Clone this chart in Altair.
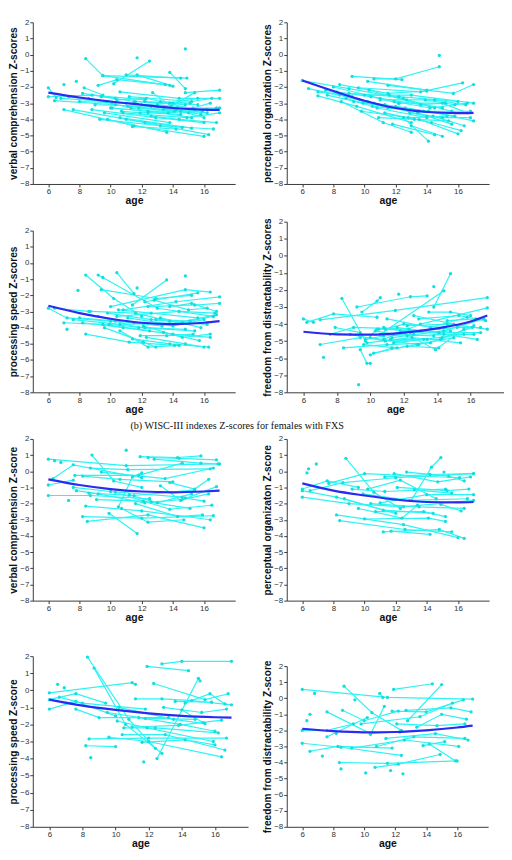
import altair as alt
import pandas as pd

# ---------------- data ----------------
X_TICKS = [6, 8, 10, 12, 14, 16]
Y_TICKS = list(range(-8, 3))
FIT_AGES = [6, 8, 10, 12, 14, 16, 17]

# (a) males
m_verbal = [
    [(8.4,-0.25),(9.5,-1.3),(13.8,-1.9)], [(10.2,-1.8),(12.5,-0.4)], [(11.7,-0.2)], [(14.8,0.35)],
    [(9.5,-1.3),(14.9,-1.45)], [(11,-1.25),(14.5,-1.45)], [(9.2,-1.9),(10.4,-1.55),(13.5,-1.85)],
    [(11.7,-1.25),(14,-1.95)], [(13.8,-1.1),(14.8,-2.1)], [(12.7,-2.35),(13.9,-3.2),(15.4,-2.35)],
    [(14.8,-2.35),(17,-2.2)], [(6,-2.05),(6.5,-2.65)], [(7,-1.85)], [(7.8,-1.65)],
    [(8.3,-2.05),(9.5,-2.5)], [(6,-2.6),(8.8,-2.5),(12.2,-2.8)], [(6.4,-2.85),(10.3,-3.1),(14.5,-3.5)],
    [(7,-3.4),(11.5,-4.4),(16,-5.05)], [(7.6,-3.4),(12.2,-4.2),(16.3,-4.95)],
    [(9.3,-4.0),(13.2,-4.4),(16.6,-4.6)], [(8.6,-2.7),(11.3,-3.3),(15.2,-3.9)],
    [(9.8,-4.0),(13.6,-4.8)], [(10.6,-3.9),(15.2,-4.55)], [(11.4,-4.45),(14.2,-4.6)],
    [(10,-3.3),(13.7,-3.6),(16.8,-3.3)], [(9,-3.1),(12.6,-3.2),(15.8,-3.7)],
    [(8,-2.9),(11,-3.0),(14.3,-3.3),(17,-3.3)], [(10.6,-2.3),(14.4,-2.7),(17,-2.7)],
    [(11.2,-2.6),(15.2,-2.9),(16.5,-2.7)], [(12.2,-2.9),(15.6,-3.1)], [(7.3,-2.6),(10.1,-2.95)],
    [(8.8,-3.4),(12.9,-3.9),(16,-4.2)], [(10.8,-3.6),(14.9,-3.9),(17,-3.6)],
    [(11.8,-3.3),(15,-3.6),(16.2,-3.4)], [(9.6,-3.6),(13.8,-4.2)], [(12.6,-3.8),(14.4,-4.0),(16.8,-4.2)],
    [(11,-4.0),(14.6,-4.5)], [(13.2,-2.9),(15.1,-3.0)], [(10.4,-2.8),(12.3,-2.7),(15.9,-3.5)],
    [(14.2,-3.4),(16,-3.9)],
    [(9.4,-2.6),(11.6,-2.9),(14.8,-3.1)], [(10.1,-3.3),(12.4,-3.5),(15.4,-3.4)],
    [(11.1,-3.2),(13.4,-3.4),(16.2,-3.6)], [(9.7,-2.9),(12,-3.1),(14,-3.0)], [(12.4,-3.6),(14.5,-3.7)],
    [(10.7,-3.5),(11.9,-3.6),(14.1,-3.5)], [(13,-3.1),(15.3,-3.3),(16.4,-3.0)], [(8.2,-2.4),(10.3,-2.7)],
    [(6.8,-2.7),(9.8,-2.9)], [(11.5,-2.9),(13.8,-3.0),(15.6,-2.7)],
]
m_verbal_fit = [-2.35, -2.65, -2.9, -3.1, -3.3, -3.4, -3.42]

m_percept = [
    [(6,-1.6),(9,-2.1),(12.5,-2.7)], [(6.4,-2.1),(8.4,-2.5),(11.5,-3.3)], [(7,-2.55),(9.5,-3.2),(13,-4.2)],
    [(7.5,-2.2),(10.2,-2.9),(14,-3.8)], [(8,-2.0),(11,-2.7),(15,-3.3)], [(8.4,-1.85),(11.5,-2.4),(14,-2.25)],
    [(8.5,-2.9),(11.2,-4.2),(13,-4.8)], [(9.2,-1.35),(12.4,-1.55)], [(10.6,-1.5),(12,-1.5),(14.8,-0.75)],
    [(14.8,-0.05)], [(10.2,-1.65),(14,-2.2)], [(9.6,-2.05),(13.6,-2.3),(16.3,-1.75)],
    [(11.5,-1.9),(15.7,-2.4),(17,-1.85)], [(9,-2.4),(12.2,-2.6),(16,-2.9)], [(10,-2.5),(13,-2.5),(17,-3.0)],
    [(11,-2.8),(14.5,-2.8),(16.5,-3.1)], [(10.5,-3.2),(13.5,-3.5),(16.8,-3.5)],
    [(9.8,-3.5),(12.8,-3.9),(15.3,-3.8)], [(11.3,-3.6),(14.3,-4.2),(16.2,-4.7)],
    [(12.0,-3.2),(14.1,-3.5),(17,-4.1)], [(12.5,-3.9),(14.1,-5.35)], [(11.8,-4.3),(14.5,-4.95)],
    [(13,-4.4),(15,-5.05)], [(13.5,-4.0),(16,-4.9)], [(12.2,-3.0),(15,-3.0),(16.6,-3.6)],
    [(10.3,-2.2),(13.6,-3.1),(15.2,-3.0)], [(11.6,-2.5),(14.5,-3.3)], [(8.8,-2.7),(10.8,-3.3),(14,-3.9)],
    [(7.6,-2.5),(9.9,-3.0),(12.9,-3.4)], [(13.4,-3.6),(15.6,-4.3)], [(14.4,-3.8),(16.4,-4.4)],
    [(12.7,-2.8),(15.6,-3.5)],
    [(9.3,-2.9),(11.3,-3.1),(13.8,-3.5)], [(10.6,-3.0),(12.6,-3.3),(15.8,-3.8)],
    [(11.9,-2.9),(14.2,-3.3),(16.6,-3.0)], [(8.2,-2.3),(10.4,-2.6),(12.2,-3.0)],
    [(12.9,-3.6),(15,-3.9),(16.8,-3.9)], [(10.9,-3.9),(13.2,-4.0),(15.4,-4.1)], [(7,-2.3),(9.2,-2.6)],
    [(13.9,-2.8),(15.8,-3.1)],
]
m_percept_fit = [-1.6, -2.25, -2.85, -3.3, -3.55, -3.62, -3.6]

m_speed = [
    [(6,-2.8),(7.2,-3.4),(10,-3.6)], [(6.4,-2.8),(8.6,-3.0)], [(7,-3.7),(9.5,-3.8),(12.5,-4.2)],
    [(7.2,-4.1)], [(7.9,-1.7)], [(8.4,-0.75),(10.2,-2.2),(12.0,-3.3)],
    [(9.2,-0.75),(9.5,-0.9),(13.0,-2.8),(16.6,-3.3)], [(10.4,-0.6),(11.5,-1.9)],
    [(11.4,-2.6),(13.6,-1.05)], [(14.8,-0.8)], [(9.4,-1.65),(12.9,-2.2),(15.2,-2.0)],
    [(10,-2.7),(14.8,-1.65),(16.4,-1.8)], [(11.7,-1.55)], [(12.2,-2.4),(15.6,-1.85)],
    [(10.8,-2.9),(14.2,-2.4),(17,-2.1)], [(12.4,-2.7),(15.4,-2.6),(17,-2.5)],
    [(8.4,-4.4),(11.2,-4.9),(14.1,-5.1)], [(9.6,-4.0),(12.1,-4.9),(12.9,-5.2)],
    [(10.6,-4.2),(12.4,-5.2),(14.4,-5.1)], [(11.4,-4.7),(13.8,-5.0),(16.3,-5.2)],
    [(12.3,-4.6),(14.8,-5.0),(16,-5.2)], [(9.2,-3.3),(11.8,-4.0),(15.4,-4.2)],
    [(8.2,-3.7),(10.8,-4.0),(14,-4.4),(16.4,-4.6)], [(9.8,-3.1),(12.6,-3.5),(16.2,-3.8)],
    [(11.1,-3.4),(13.8,-3.8),(16.8,-3.2)], [(10.4,-3.3),(14.4,-3.0),(16.7,-3.1)],
    [(12.8,-2.3),(15,-2.9),(16.2,-2.8)], [(13.2,-3.4),(15.8,-4.0)], [(8.7,-3.0),(11.6,-3.1),(13.8,-3.6)],
    [(12.1,-3.9),(14.6,-4.6),(16.4,-4.4)], [(7.6,-3.5),(10.6,-3.8),(14.6,-3.7)], [(13.4,-4.3),(15.7,-4.8)],
    [(9.9,-3.8),(12.2,-4.0),(14.8,-4.1)], [(10.5,-2.9),(12.6,-3.1),(15.6,-3.4)],
    [(11.5,-3.7),(14,-3.9),(16,-3.5)], [(8,-3.4),(10.3,-3.6),(13.3,-3.9)],
    [(12.9,-3.5),(15.1,-3.6),(16.6,-3.3)], [(11.9,-4.5),(13.6,-4.5),(15.3,-4.4)],
    [(13.8,-2.7),(15.2,-2.5),(16.8,-3.0)],
]
m_speed_fit = [-2.65, -3.1, -3.45, -3.7, -3.78, -3.7, -3.6]

m_freedom = [
    [(6,-3.7),(6.6,-3.9)], [(6.2,-3.9),(7.8,-3.4),(10.4,-3.6)], [(7,-5.2),(9.4,-4.8)], [(7.2,-5.95)],
    [(7.6,-4.6),(9.0,-4.2),(12.3,-4.3)], [(8.3,-2.5),(9.7,-5.0),(10.4,-4.3)],
    [(8.4,-5.4),(11.0,-5.2),(13.6,-5.1)], [(9.3,-7.55)], [(9.4,-5.5),(9.8,-6.3),(10,-6.3)],
    [(9.2,-3.0),(12.4,-2.4),(13.4,-2.35)], [(9.5,-3.3),(10.4,-2.65),(10.6,-2.45)],
    [(10.2,-5.7),(12.2,-5.3),(14.1,-5.4)], [(10.6,-4.6),(14.4,-2.05)], [(11.7,-2.25)], [(13.8,-1.8)],
    [(13.8,-3.0),(14.8,-1.05)], [(7,-3.75),(11.5,-3.2),(17,-2.45)], [(10.8,-4.9),(13,-4.0),(17,-3.05)],
    [(11.3,-4.8),(14.4,-4.4),(16.8,-3.7)], [(10,-4.8),(12.8,-5.2),(15,-4.8)],
    [(11.8,-4.4),(13.9,-5.5),(15.6,-4.3)], [(12.2,-4.1),(14.6,-4.0),(17,-4.3)],
    [(10.5,-4.3),(13.1,-4.4),(16.4,-4.9)], [(12.9,-3.7),(15.3,-3.5),(16.9,-3.8)],
    [(11.2,-4.9),(14.2,-4.9),(16.2,-4.1)], [(9.8,-5.1),(12.5,-4.8),(15.4,-5.1)],
    [(13.5,-3.3),(14.8,-3.3),(16.0,-3.5)], [(11.6,-4.2),(14.1,-4.5),(16.6,-4.5)], [(12.6,-3.5),(15,-4.0)],
    [(8.8,-4.6),(10.9,-5.0),(13.4,-4.9)], [(14.3,-4.8),(16.1,-4.2)], [(11,-3.7),(13.6,-4.2),(15.8,-3.6)],
    [(10.3,-4.4),(11.4,-4.6),(13.8,-4.7)], [(10.8,-4.2),(12.4,-4.5),(14.8,-4.4)],
    [(9.6,-5.2),(11.6,-5.4),(12.9,-5.2)], [(10.9,-4.3),(12,-4.0),(14.4,-4.2)],
    [(11.4,-5.1),(13.2,-4.9),(15.6,-4.6)], [(12.2,-4.7),(14.4,-4.6),(16.2,-4.6)],
    [(9.7,-4.9),(10.8,-4.7),(12.6,-4.6)], [(13,-4.4),(15.2,-4.2),(16.6,-4.2)], [(10,-5.8),(11.3,-5.4)],
    [(7.9,-4.2),(9.4,-4.5)], [(14.6,-3.8),(16.3,-3.7)],
]
m_freedom_fit = [-4.45, -4.6, -4.62, -4.5, -4.25, -3.85, -3.5]

# (b) females
f_verbal = [
    [(6,0.75),(11,0.35),(16.9,0.45)], [(6.4,0.65)], [(6.8,0.55)], [(6,-0.85),(7.6,-0.55)],
    [(6,-1.5),(8.7,-1.5),(12.5,-1.7)], [(7.3,-1.8)], [(6.3,-0.45),(7.6,0.4),(12,-0.4)],
    [(8.7,0.2),(11.1,0.1),(16.4,0.15)], [(8.8,1.0),(10.2,-0.6),(12,-1.0)], [(11,1.3)],
    [(11.9,0.9),(14.3,0.85),(15.8,0.95)], [(12.4,0.85),(14.4,0.8),(16.8,0.7)],
    [(12.8,0.75),(15.8,0.5),(17,0.45)], [(9.4,-0.05),(13.5,-0.45),(16.6,0.2)],
    [(7.7,-0.25),(11.8,-0.25),(14.6,0.5)], [(8.2,-0.3),(10.6,-0.5),(14,-0.65)],
    [(10.5,-2.2),(11.4,-0.35),(12,-0.1)], [(7.6,-1.0),(10,-1.25),(14.6,-1.6)],
    [(7.8,-1.2),(9.2,-1.4),(12.2,-1.95)], [(8.6,-1.35),(11.5,-1.5),(15.4,-1.15)],
    [(9.1,-1.75),(12.1,-1.85),(15.1,-2.3)], [(8.4,-2.15),(12.0,-2.45),(16.4,-3.0)],
    [(8.2,-2.8),(12.0,-2.9),(16.6,-2.75)], [(8.5,-3.1),(12.4,-2.7),(16,-3.5)], [(9.9,-2.6),(11.7,-3.85)],
    [(10.7,-2.3),(12.4,-3.15),(14.7,-3.0)], [(11.2,-1.45),(13.0,-1.95),(15.2,-1.4)],
    [(12.6,-1.9),(14.6,-1.75),(16.3,-1.4)], [(13.2,-0.9),(14.5,-1.8),(16.8,-0.95)],
    [(13.8,-0.7),(15.4,-1.1),(16.3,-0.5)], [(10.3,-1.3),(13.8,-2.35),(16.5,-2.1)],
    [(11.6,-2.0),(14.3,-2.8),(15.9,-2.7)], [(14.8,-1.65),(16.0,-1.85)],
]
f_verbal_fit = [-0.5, -0.85, -1.1, -1.25, -1.3, -1.25, -1.2]

f_percept = [
    [(6.3,-0.1)], [(6.4,0.15)], [(6.9,0.45)], [(6,-1.1),(7.6,-0.6),(9.6,-1.0)],
    [(6,-1.2),(8.2,-1.6),(12,-2.6)], [(6,-1.6),(9.0,-2.0),(12.5,-2.2),(17,-1.8)],
    [(6.5,-1.2),(8.6,-0.7),(12,-0.4),(17,-0.15)], [(7.7,-0.75),(10,-0.15),(16.1,-0.4)],
    [(8.8,0.8),(10.6,-1.3),(12.3,-2.3)], [(13,-1.8),(14.3,0.25),(14.9,0.85)], [(15.1,-0.05)],
    [(11.3,-0.35),(14.2,-0.2),(17,-0.15)], [(11.9,-0.15),(14.7,-0.65),(16.8,-0.35)],
    [(12.7,-0.05),(15.4,-0.3),(16.4,-0.6)], [(8.2,-2.7),(12.5,-3.3),(16,-4.1)],
    [(8.4,-3.05),(12.6,-3.6),(15.6,-3.75)], [(10,-2.95),(14.1,-2.9),(15.2,-3.1)],
    [(11.2,-3.75),(14.8,-3.6),(16.4,-4.15)], [(11.7,-3.7),(14.2,-3.9)],
    [(8.7,-1.7),(11.2,-2.4),(14.4,-2.6)], [(9.2,-1.1),(11.3,-1.25),(15.2,-1.1)],
    [(9.9,-1.4),(12.9,-1.8),(16.6,-1.7)], [(10.4,-2.0),(13.5,-2.2),(16.4,-2.3)],
    [(10.7,-2.5),(13.8,-2.5),(15.2,-2.8)], [(11,-1.95),(14.0,-1.45),(17,-1.45)],
    [(12.1,-1.0),(15.3,-1.2),(16.7,-1.1)], [(13.2,-1.15),(15.6,-1.35)],
    [(10.2,-1.1),(12.3,-0.55),(14.6,-1.7)], [(9.6,-2.3),(12.4,-2.9),(13.4,-2.1)], [(14.9,-2.05),(16.2,-2.45)],
]
f_percept_fit = [-0.75, -1.2, -1.5, -1.75, -1.9, -1.92, -1.9]

f_speed = [
    [(6,-0.15),(11,0.45),(11.2,0.35)], [(6,-0.55),(7.6,-0.2),(9.4,-0.75)], [(6,-1.1),(7.6,-0.65),(10,-1.5)],
    [(6.5,0.35)], [(6.9,0.15)], [(6.6,-0.4),(8.0,-0.75),(11.8,-1.1)], [(7.6,-1.1),(9,-1.6),(13.2,-1.6)],
    [(8.3,1.95),(10.8,-1.7),(12.4,-3.4)], [(8.7,1.3),(10.6,-2.0),(12.8,-3.7)], [(11.9,1.4),(14.4,1.15)],
    [(12.8,1.55),(14,1.7),(17,1.7)], [(12.5,-4.0),(15.0,0.7),(15.1,0.55)],
    [(12.3,0.4),(15.4,-0.55),(16.8,-0.2)], [(11.2,-0.5),(12.8,-0.5),(14.6,-0.6),(17,-0.85)],
    [(11.7,-4.2)], [(8.5,-3.95)], [(8.2,-3.25),(10,-3.3)], [(8.4,-2.85),(12.0,-2.8),(16.7,-2.8)],
    [(9.6,-2.75),(12.0,-3.0),(16.4,-3.9)], [(10.4,-2.6),(13.0,-2.6),(16.6,-3.5)],
    [(11.6,-3.05),(14.2,-2.9),(16,-3.2)], [(10.1,-1.8),(11.9,-2.2),(15.9,-3.0)],
    [(10.5,-2.2),(12.4,-2.2),(16.2,-2.5)], [(11.4,-1.6),(13.9,-2.0),(16.0,-2.4)],
    [(12.9,-1.0),(15.2,-1.3),(16.7,-1.1)], [(13.6,-0.65),(15.8,-0.7)], [(14.2,-0.75),(15.7,-0.2),(16.6,-0.8)],
    [(10.2,-1.0),(13.5,-1.7),(15.4,-1.95)], [(9.5,-1.3),(11.8,-1.65),(14.8,-1.7)], [(14,-1.15),(15.3,-1.9)],
    [(11.0,-2.15),(13.8,-2.05),(16.4,-1.75)],
]
f_speed_fit = [-0.55, -0.9, -1.15, -1.35, -1.5, -1.58, -1.6]

f_freedom = [
    [(6,0.55),(11.5,0.05),(17,-0.05)], [(6.8,0.3)], [(6.3,-1.4)], [(6.5,-1.0)],
    [(6,-2.0),(7.6,-2.0),(9.3,-1.6)], [(6,-2.8),(8.5,-3.05),(12.4,-3.55)], [(6.5,-3.3),(8.3,-3.0),(11.8,-3.1)],
    [(7.3,-3.6)], [(7.6,-2.4),(10.2,-1.2)], [(7.6,-0.85),(10.4,-2.2),(12.3,-2.1)], [(8.5,-4.4)], [(8.2,-2.2)],
    [(8.7,0.75),(10.5,-0.9),(12.4,-2.0)], [(8.6,-0.75),(10.0,-1.4),(12.2,-0.8)], [(9.4,-0.1)],
    [(11,0.3),(11.2,0.05)], [(11.9,0.55),(14.4,0.9)], [(12.8,-1.4),(15,0.85)], [(10.4,-2.25),(11.3,-0.5)],
    [(8.4,-4.0),(11.5,-4.05),(16,-3.9)], [(10.1,-4.65)], [(10.7,-4.3),(12.2,-4.1),(14.9,-3.5)],
    [(11.7,-4.5)], [(12.5,-4.7)], [(10.8,-3.0),(13.2,-2.4),(16.5,-2.5)], [(9.2,-3.1),(12.6,-2.6),(16.1,-3.0)],
    [(11.4,-2.5),(14.6,-2.2),(16.7,-2.6)], [(11.8,-0.8),(14.0,-0.85),(16.4,-0.1)],
    [(12.7,-0.75),(15.6,-0.6),(16.9,-0.85)], [(13.4,-1.8),(15,-1.0),(16.6,-1.3)],
    [(12.1,-1.6),(14.7,-1.7),(16.5,-1.6)], [(13.8,-2.95),(15.2,-2.7)], [(14.2,-2.85),(15.9,-3.9)],
    [(9.8,-1.6),(13.6,-1.15),(15.7,-0.3)],
]
f_freedom_fit = [-1.9, -2.05, -2.12, -2.1, -2.0, -1.82, -1.7]

CAPTION = ["(b) WISC-III indexes Z-scores for females with FXS"]

# ---------------- styling ----------------
CYAN_LINE = "#2ef3f3"
CYAN_PT = "#14dede"
FIT_BLUE = "#2a2af2"
FONT = "Liberation Sans"


def panel(traj, fit_vals, ytitle, cell_w, plot_w, cell_h, plot_top, caption=None):
    rows = []
    for i, t in enumerate(traj):
        for a, z in t:
            rows.append({"s": i, "age": a, "z": z})
    df = pd.DataFrame(rows)
    fit = pd.DataFrame({"age": FIT_AGES, "z": fit_vals})

    x = alt.X("age:Q",
              scale=alt.Scale(domain=[5, 18], range=[0, plot_w], nice=False, zero=False),
              axis=alt.Axis(values=X_TICKS, title="age", format="d"))
    y = alt.Y("z:Q",
              scale=alt.Scale(domain=[-8, 2], range=[cell_h, plot_top], nice=False, zero=False),
              axis=alt.Axis(values=Y_TICKS, title=ytitle, format="d"))

    lines = alt.Chart(df).mark_line(color=CYAN_LINE, strokeWidth=1.2).encode(
        x=x, y=y, detail="s:N", order="age:Q")
    pts = alt.Chart(df).mark_circle(color=CYAN_PT, size=11, opacity=1).encode(x=x, y=y)
    fl = alt.Chart(fit).mark_line(color=FIT_BLUE, strokeWidth=2.2, interpolate="monotone").encode(x=x, y=y)
    layers = [lines, pts, fl]
    if caption is not None:
        cap = alt.Chart(pd.DataFrame({"t": caption})).mark_text(
            font="Liberation Serif", fontSize=10.2, color="#111", align="center", baseline="middle"
        ).encode(text="t:N", x=alt.value(206), y=alt.value(24))
        layers.append(cap)
    return alt.layer(*layers).properties(width=cell_w, height=cell_h)


LW, RW = 218, 219
H1, H2, H3, H4 = 174, 200, 200, 218

p1 = panel(m_verbal, m_verbal_fit, "verbal comprehension Z-scores", LW, 204, H1, 11)
p2 = panel(m_percept, m_percept_fit, "perceptual organization Z-scores", RW, 204, H1, 11)
p3 = panel(m_speed, m_speed_fit, "processing speed Z-scores", LW, 204, H2, 37)
p4 = panel(m_freedom, m_freedom_fit, "freedom from distractability Z-scores", RW, 219, H2, 28)
p5 = panel(f_verbal, f_verbal_fit, "verbal comprehension Z-score", LW, 204, H3, 37, caption=CAPTION)
p6 = panel(f_percept, f_percept_fit, "perceptual organizaton Z-score", RW, 204, H3, 37)
p7 = panel(f_speed, f_speed_fit, "processing speed  Z-score", LW, 217, H4, 46)
p8 = panel(f_freedom, f_freedom_fit, "freedom from distractability Z-score", RW, 203, H4, 56)

chart = alt.concat(
    p1, p2, p3, p4, p5, p6, p7, p8,
    columns=2, bounds="flush", spacing=alt.RowColnumber(row=10, column=38)
).properties(
    padding=0, background="white"
).configure_view(
    stroke=None
).configure_axis(
    grid=False, domainColor="#3a3a3a", tickColor="#3a3a3a", tickSize=3, labelPadding=1,
    labelFont=FONT, labelFontSize=8, labelColor="#333333",
    titleFont=FONT, titleFontWeight="bold", titleColor="#111111",
)
chart = chart.configure_axisX(titleFontSize=10.5, titlePadding=0)
chart = chart.configure_axisY(titleFontSize=10.2, titlePadding=1)

chart.save("out.html", embed_options={"renderer": "svg", "actions": False})
